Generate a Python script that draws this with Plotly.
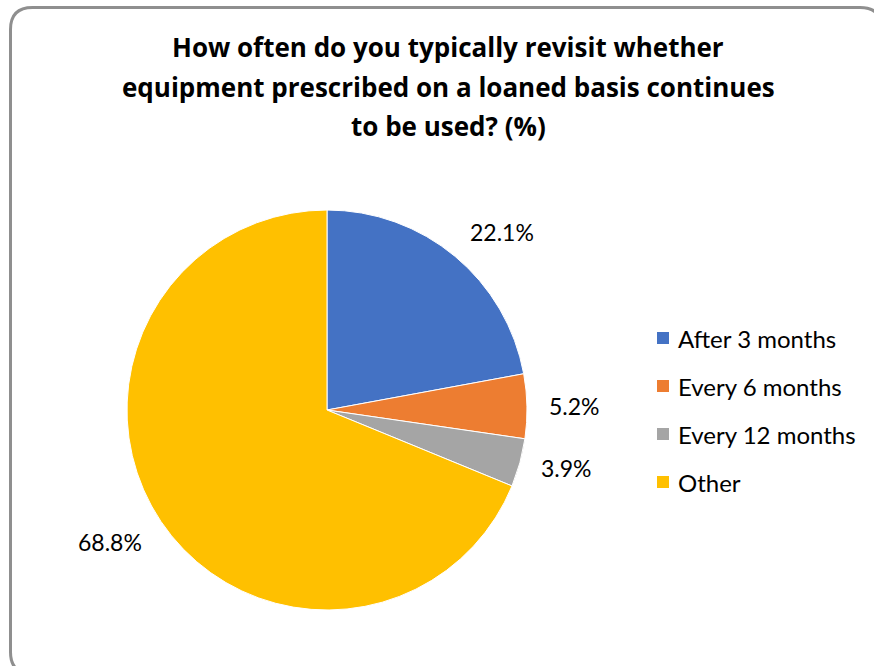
import math
import plotly.graph_objects as go

W, H = 874, 666

categories = ["After 3 months", "Every 6 months", "Every 12 months", "Other"]
values = [22.1, 5.2, 3.9, 68.8]
colors = ["#4472C4", "#ED7D31", "#A5A5A5", "#FFC000"]
title_lines = [
    "How often do you typically revisit whether",
    "equipment prescribed on a loaned basis continues",
    "to be used? (%)",
]

FONT = "Lato, 'Open Sans', sans-serif"
TFONT = "'Open Sans', Lato, sans-serif"

# pie geometry (pixels)
cx, cy, R = 327, 410, 200


def px(x):
    return x / W


def py(y):
    return 1 - y / H


fig = go.Figure()
fig.add_trace(go.Pie(
    labels=categories,
    values=values,
    marker=dict(colors=colors, line=dict(color="white", width=1)),
    sort=False,
    direction="clockwise",
    rotation=0,
    textinfo="none",
    showlegend=False,
    domain=dict(x=[px(cx - R), px(cx + R)], y=[py(cy + R), py(cy - R)]),
    hovertemplate="%{label}: %{value}%<extra></extra>",
))

annotations = []
# data labels positioned just outside each slice's mid-angle (Excel best-fit style)
total = sum(values)
cum = 0.0
label_r = R + 20
half_h = 9
for v in values:
    mid = (cum + v / 2) / total * 2 * math.pi
    cum += v
    s, c = math.sin(mid), math.cos(mid)
    lx = cx + label_r * s
    ly = cy - label_r * c
    xa = "left" if s > 0.2 else ("right" if s < -0.2 else "center")
    if c > 0.3:
        ly -= half_h
    elif c < -0.3:
        ly += half_h
    annotations.append(dict(
        x=px(lx), y=py(ly), xref="paper", yref="paper",
        text=f"{v:.1f}%", showarrow=False,
        xanchor=xa, yanchor="middle",
        font=dict(family=FONT, size=23, color="#000000"),
    ))

# title lines
for i, line in enumerate(title_lines):
    annotations.append(dict(
        x=px(448), y=py(47 + i * 39.5), xref="paper", yref="paper",
        text=f"<b>{line}</b>", showarrow=False,
        xanchor="center", yanchor="middle",
        font=dict(family=TFONT, size=26, color="#000000"),
    ))

shapes = []
# legend (custom, for Excel-like spacing)
leg_x, leg_y0, leg_dy = 657, 338, 48
for i, (cat, col) in enumerate(zip(categories, colors)):
    yy = leg_y0 + i * leg_dy
    shapes.append(dict(
        type="rect", xref="paper", yref="paper",
        x0=px(leg_x), x1=px(leg_x + 12), y0=py(yy + 6), y1=py(yy - 6),
        fillcolor=col, line=dict(width=0),
    ))
    annotations.append(dict(
        x=px(leg_x + 19), y=py(yy), xref="paper", yref="paper",
        text=cat, showarrow=False, xanchor="left", yanchor="middle",
        font=dict(family=FONT, size=24, color="#000000"),
    ))

# rounded chart-area border
x0, y0, x1, y1, r = 10.5, 7.5, 882, 674, 22


def P(x, y):
    return f"{px(x):.5f},{py(y):.5f}"


path = (
    f"M {P(x0 + r, y0)} L {P(x1 - r, y0)} Q {P(x1, y0)} {P(x1, y0 + r)} "
    f"L {P(x1, y1 - r)} Q {P(x1, y1)} {P(x1 - r, y1)} "
    f"L {P(x0 + r, y1)} Q {P(x0, y1)} {P(x0, y1 - r)} "
    f"L {P(x0, y0 + r)} Q {P(x0, y0)} {P(x0 + r, y0)} Z"
)
shapes.append(dict(type="path", xref="paper", yref="paper", path=path,
                   line=dict(color="#8f8f8f", width=3)))

fig.update_layout(
    width=W, height=H,
    margin=dict(l=0, r=0, t=0, b=0),
    paper_bgcolor="white", plot_bgcolor="white",
    annotations=annotations, shapes=shapes,
    showlegend=False,
)

fig.write_html("out.html")
